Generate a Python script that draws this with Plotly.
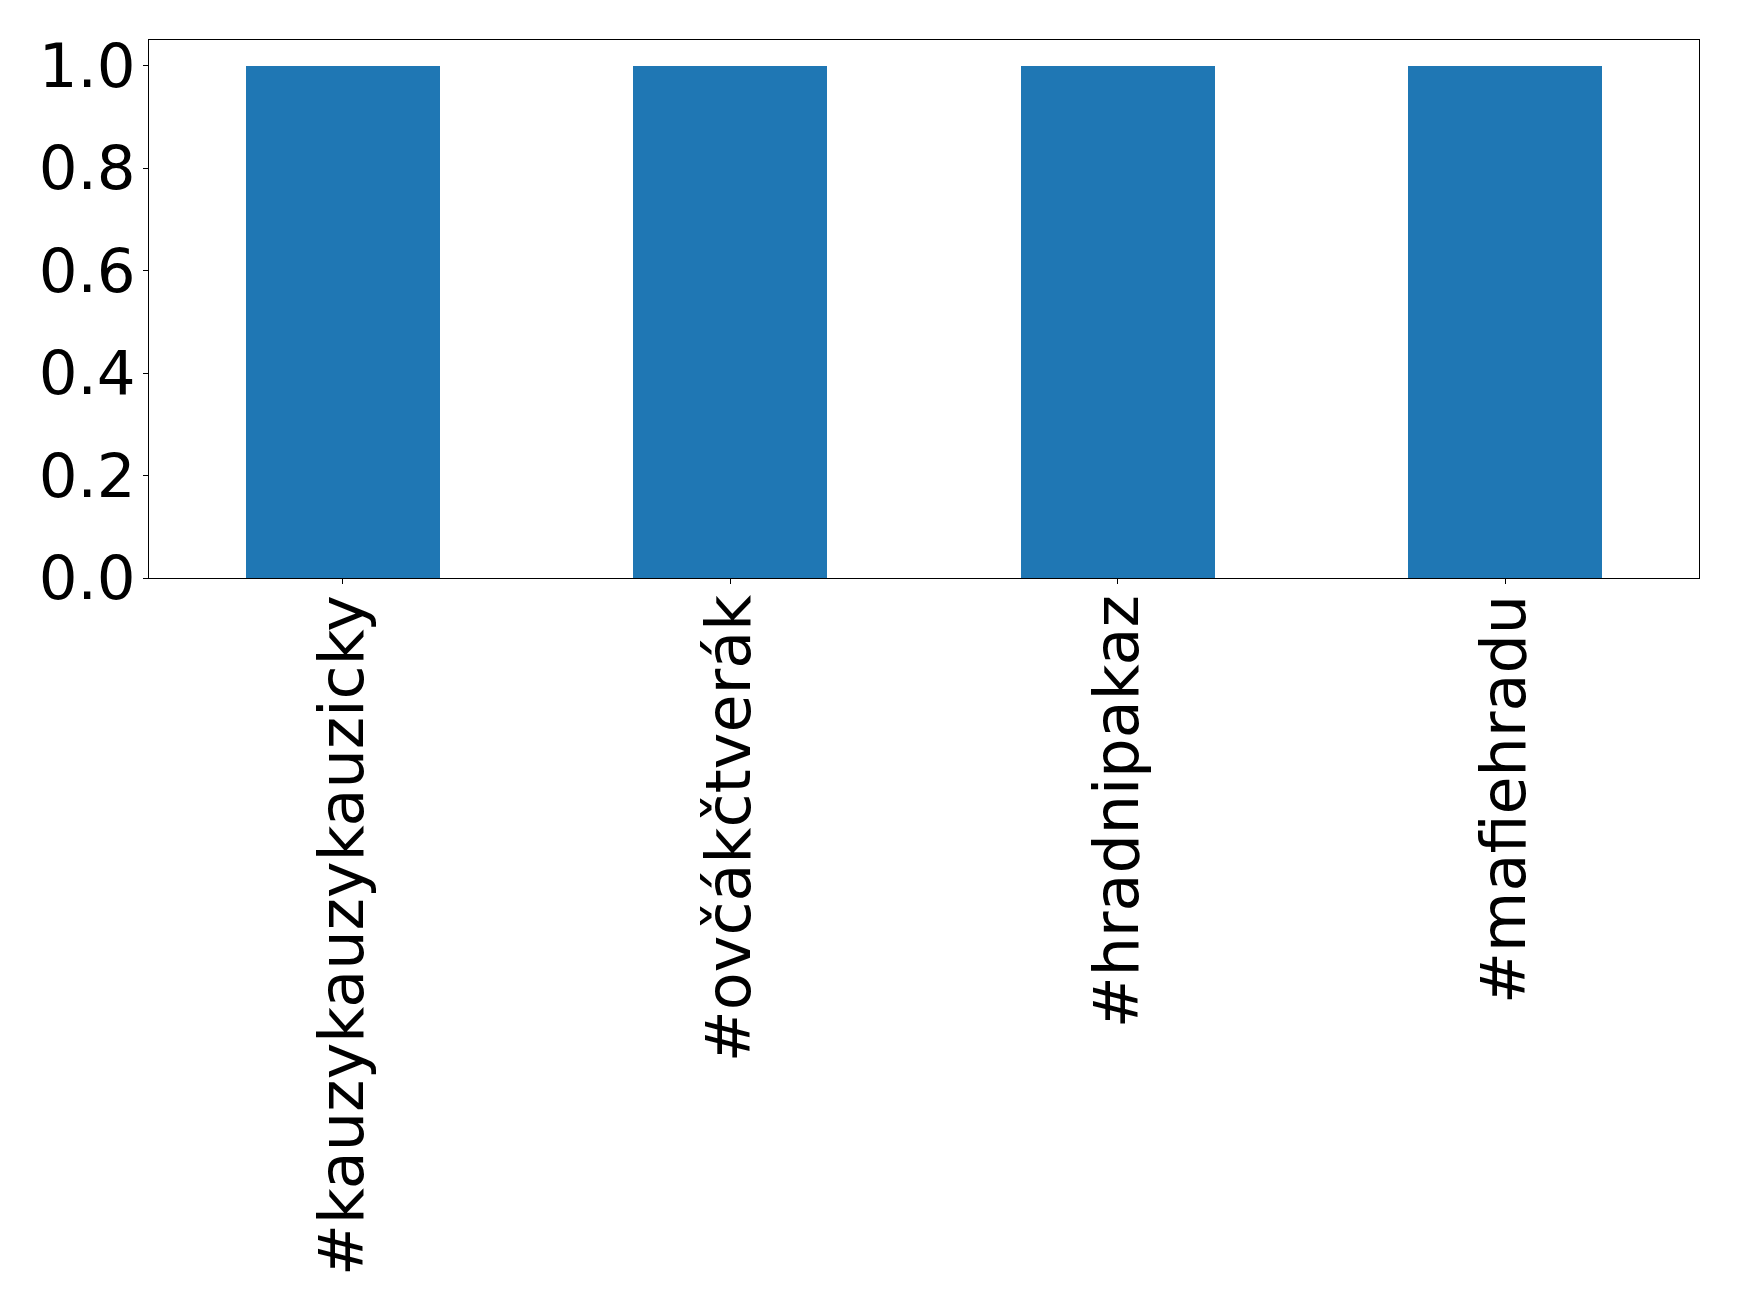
import plotly.graph_objects as go

categories = ["#kauzykauzykauzicky", "#ovčákčtverák", "#hradnipakaz", "#mafiehradu"]
values = [1, 1, 1, 1]
y_ticks = [0.0, 0.2, 0.4, 0.6, 0.8, 1.0]
y_tick_labels = ["0.0", "0.2", "0.4", "0.6", "0.8", "1.0"]

fig = go.Figure(go.Bar(x=list(range(len(categories))), y=values, width=0.5,
                       marker=dict(color="#1f77b4", line=dict(width=0))))

fig.update_layout(
    width=1731, height=1305,
    margin=dict(l=141, r=40, t=32, b=735),
    paper_bgcolor="white", plot_bgcolor="white",
    font=dict(family="DejaVu Sans", size=60, color="black"),
    showlegend=False,
    bargap=0,
)
fig.update_xaxes(
    range=[-0.5, len(categories) - 0.5],
    tickmode="array", tickvals=list(range(len(categories))), ticktext=categories,
    tickfont=dict(size=62),
    tickangle=-90, ticks="outside", ticklen=5, tickcolor="black", tickwidth=1.3,
    showline=True, linecolor="black", linewidth=1.3, mirror=True,
    showgrid=False, zeroline=False, ticklabelstandoff=-14,
)
fig.update_yaxes(
    range=[0, 1.05],
    tickmode="array", tickvals=y_ticks, ticktext=y_tick_labels,
    tickfont=dict(size=61),
    ticks="outside", ticklen=5, tickcolor="black", tickwidth=1.3,
    showline=True, linecolor="black", linewidth=1.3, mirror=True,
    showgrid=False, zeroline=False, ticklabelstandoff=-5,
)
fig.write_html("out.html")
